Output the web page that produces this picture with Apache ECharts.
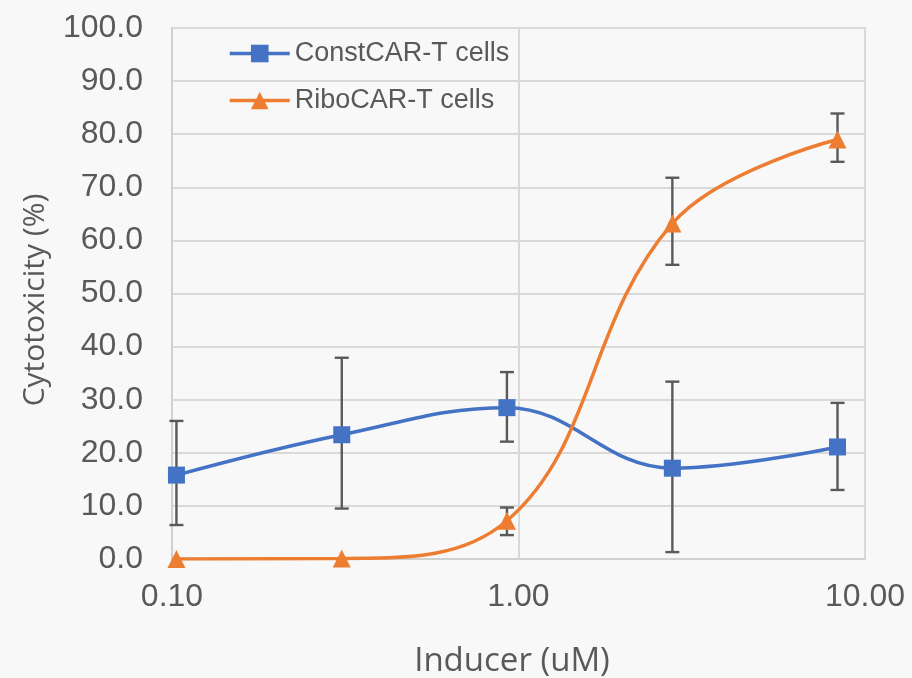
<!DOCTYPE html>
<html><head><meta charset="utf-8">
<script src="https://cdn.jsdelivr.net/npm/echarts@6/dist/echarts.min.js"></script>
<style>html,body{margin:0;padding:0;background:#f8f8f8}#c{width:912px;height:678px}</style>
</head><body><div id="c"></div>
<script>
// ---- data ----
const inducer = [0.103, 0.309, 0.926, 2.78, 8.33];
const seriesNames = ['ConstCAR-T cells', 'RiboCAR-T cells'];
const constValues = [15.8, 23.4, 28.5, 17.1, 21.1];
const constLow = [6.4, 9.5, 22.1, 1.3, 13.0];
const constHigh = [26.0, 37.9, 35.2, 33.4, 29.4];
const riboValues = [0.0, 0.1, 7.2, 63.2, 79.0];
const riboLow = [0.0, 0.1, 4.5, 55.4, 74.8];
const riboHigh = [0.0, 0.1, 9.7, 71.8, 83.9];
const xAxisTitle = 'Inducer (uM)';
const yAxisTitle = 'Cytotoxicity (%)';

const BLUE = '#4472C4', ORANGE = '#ED7D31', GREY = '#595959';
const tickFont = 'Liberation Sans';
const titleFont = 'Open Sans';

function pairs(xs, ys) { return xs.map((x, i) => [x, ys[i]]); }
function errRows(xs, lo, hi) { return xs.map((x, i) => [x, lo[i], hi[i]]); }

function errRender(params, api) {
  const x = api.value(0), lo = api.value(1), hi = api.value(2);
  if (hi - lo < 0.3) return null;
  const a = api.coord([x, hi]), b = api.coord([x, lo]);
  const w = 7;
  const st = { stroke: GREY, lineWidth: 2.4 };
  return { type: 'group', children: [
    { type: 'line', shape: { x1: a[0], y1: a[1], x2: b[0], y2: b[1] }, style: st },
    { type: 'line', shape: { x1: a[0] - w, y1: a[1], x2: a[0] + w, y2: a[1] }, style: st },
    { type: 'line', shape: { x1: b[0] - w, y1: b[1], x2: b[0] + w, y2: b[1] }, style: st }
  ]};
}

const chart = echarts.init(document.getElementById('c'));
chart.setOption({
  backgroundColor: '#f8f8f8',
  animation: false,
  grid: { left: 172, right: 47, top: 28, bottom: 119, show: true, borderColor: '#d9d9d9', borderWidth: 2, backgroundColor: 'transparent' },
  legend: {
    orient: 'vertical', left: 223, top: 35, itemWidth: 60, itemHeight: 22, itemGap: 20,
    data: seriesNames,
    lineStyle: { width: 3.5 },
    textStyle: { fontFamily: tickFont, fontSize: 27, color: GREY }
  },
  xAxis: {
    type: 'log', logBase: 10, min: 0.1, max: 10, interval: 1,
    axisLine: { show: true, lineStyle: { color: '#d0d0d0', width: 2 } },
    axisTick: { show: false },
    minorTick: { show: false },
    splitLine: { show: true, lineStyle: { color: '#d9d9d9', width: 2 } },
    axisLabel: { formatter: v => Number(v).toFixed(2), fontFamily: tickFont, fontSize: 32, color: GREY, margin: 22 }
  },
  yAxis: {
    type: 'value', min: 0, max: 100, interval: 10,
    axisLine: { show: true, lineStyle: { color: '#d0d0d0', width: 2 } },
    axisTick: { show: false },
    splitLine: { show: true, lineStyle: { color: '#d9d9d9', width: 2 } },
    axisLabel: { formatter: v => Number(v).toFixed(1), fontFamily: tickFont, fontSize: 32, color: GREY, margin: 29 }
  },
  graphic: [
    { type: 'text', x: 512, y: 662, style: { text: xAxisTitle, fontFamily: titleFont, fontSize: 33, fill: GREY, align: 'center', verticalAlign: 'middle' } },
    { type: 'text', x: 35, y: 300, rotation: Math.PI / 2, style: { text: yAxisTitle, fontFamily: titleFont, fontSize: 30, fill: GREY, align: 'center', verticalAlign: 'middle' } }
  ],
  series: [
    { type: 'custom', name: 'constErr', renderItem: errRender, data: errRows(inducer, constLow, constHigh), z: 1, encode: { x: 0, y: [1, 2] }, silent: true },
    { type: 'custom', name: 'riboErr', renderItem: errRender, data: errRows(inducer, riboLow, riboHigh), z: 1, encode: { x: 0, y: [1, 2] }, silent: true },
    { type: 'line', name: seriesNames[0], data: pairs(inducer, constValues), smooth: 0.4, z: 3,
      symbol: 'rect', symbolSize: 17, itemStyle: { color: BLUE }, lineStyle: { color: BLUE, width: 3.5 } },
    { type: 'line', name: seriesNames[1], data: pairs(inducer, riboValues), smooth: 0.4, z: 3,
      symbol: 'triangle', symbolSize: 18, itemStyle: { color: ORANGE }, lineStyle: { color: ORANGE, width: 3.5 } }
  ]
});
</script></body></html>
